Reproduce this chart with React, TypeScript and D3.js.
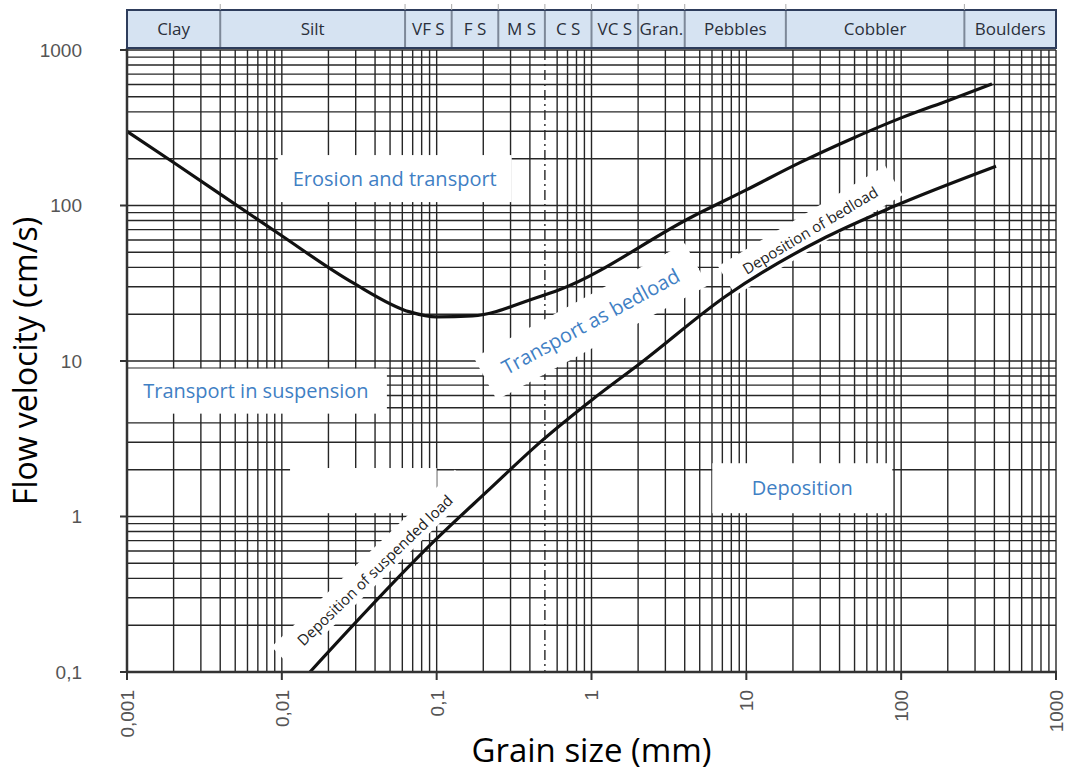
import React from 'react';
import * as d3 from 'd3';

// grain size classes (mm)
const classLabels = ['Clay', 'Silt', 'VF S', 'F S', 'M S', 'C S', 'VC S', 'Gran.', 'Pebbles', 'Cobbler', 'Boulders'];
const classBounds = [0.001, 0.004, 0.0625, 0.125, 0.25, 0.5, 1, 2, 4, 18, 256, 1000];

// axis ticks
const xTicks = [0.001, 0.01, 0.1, 1, 10, 100, 1000];
const xTickLabels = ['0,001', '0,01', '0,1', '1', '10', '100', '1000'];
const yTicks = [0.1, 1, 10, 100, 1000];
const yTickLabels = ['0,1', '1', '10', '100', '1000'];

// erosion curve: grain size (mm) vs velocity (cm/s)
const erosionSize = [0.001, 0.002, 0.0093, 0.0287, 0.067, 0.1, 0.17, 0.44, 0.62, 4.5, 10, 22, 46, 100, 204, 386];
const erosionVel = [300, 189, 67, 31.9, 20.7, 19.2, 19.5, 25.5, 28.7, 85, 126, 188, 264, 366, 476, 604];

// deposition curve
const depoSize = [0.0152, 0.1, 0.21, 0.483, 1, 2.13, 7.4, 32.8, 87.5, 410];
const depoVel = [0.1, 0.72, 1.44, 3.1, 5.6, 9.9, 26.2, 62.7, 97.7, 179];

const blue = '#3f80c4';

const App = () => {
  const W = 1066;
  const H = 774;
  const x = d3.scaleLog().domain([0.001, 1000]).range([127, 1056]);
  const y = d3.scaleLog().domain([0.1, 1000]).range([672, 50]);
  const headerTop = 10;
  const headerBottom = 48;

  const gridX: number[] = [];
  for (let e = -3; e < 3; e++) for (let m = 1; m < 10; m++) gridX.push(m * Math.pow(10, e));
  gridX.push(1000);
  const gridY: number[] = [];
  for (let e = -1; e < 3; e++) for (let m = 1; m < 10; m++) gridY.push(m * Math.pow(10, e));
  gridY.push(1000);

  const line = d3
    .line<[number, number]>()
    .x((d) => x(d[0]))
    .y((d) => y(d[1]))
    .curve(d3.curveMonotoneX);

  const erosion = erosionSize.map((s, i) => [s, erosionVel[i]] as [number, number]);
  const depo = depoSize.map((s, i) => [s, depoVel[i]] as [number, number]);

  // label annotations placed in data units, boxes in px (boff shifts the box across the text)
  const labels = [
    { text: 'Erosion and transport', gx: 0.0536, gv: 149, angle: 0, size: 20, color: blue, bw: 234, bh: 47, boff: 0 },
    { text: 'Transport in suspension', gx: 0.0068, gv: 6.4, angle: 0, size: 20, color: blue, bw: 262, bh: 45, boff: 0 },
    { text: 'Deposition', gx: 23, gv: 1.52, angle: 0, size: 20, color: blue, bw: 180, bh: 50, boff: 0 },
    { text: 'Transport as bedload', gx: 0.99, gv: 17.9, angle: -28.5, size: 20, color: blue, bw: 240, bh: 48, boff: 0 },
    { text: 'Deposition of bedload', gx: 25.9, gv: 69, angle: -31, size: 15, color: '#222', bw: 195, bh: 34, boff: 0 },
    { text: 'Deposition of suspended load', gx: 0.04, gv: 0.45, angle: -44, size: 15, color: '#222', bw: 255, bh: 28, boff: -3 },
  ];

  const font = "'Open Sans', sans-serif";
  const tickFont = "'Liberation Sans', Arial, sans-serif";

  return (
    <svg width={W} height={H} style={{ position: 'absolute', left: 0, top: 0, background: '#fff' }}>
      {/* grid */}
      <g stroke="#262626" strokeWidth={1.4}>
        {gridX.map((v, i) => (
          <line
            key={'gx' + i}
            x1={x(v)}
            x2={x(v)}
            y1={y(1000)}
            y2={y(0.1)}
            strokeDasharray={Math.abs(v - 0.5) < 1e-9 ? '10 4 2 4' : undefined}
          />
        ))}
        {gridY.map((v, i) => (
          <line key={'gy' + i} x1={x(0.001)} x2={x(1000)} y1={y(v)} y2={y(v)} />
        ))}
      </g>

      {/* blank patch of the grid */}
      <rect x={x(0.0113)} y={y(2.05)} width={x(0.1) - x(0.0113)} height={y(1.05) - y(2.05)} fill="#fff" />

      {/* label boxes */}
      {labels.map((l, i) => (
        <rect
          key={'lb' + i}
          x={-l.bw / 2}
          y={-l.bh / 2 + l.boff}
          width={l.bw}
          height={l.bh}
          fill="#fff"
          transform={`translate(${x(l.gx)},${y(l.gv)}) rotate(${l.angle})`}
        />
      ))}

      {/* curves */}
      <path d={line(erosion) || ''} fill="none" stroke="#111" strokeWidth={3.2} />
      <path d={line(depo) || ''} fill="none" stroke="#111" strokeWidth={3.2} />

      {/* labels */}
      {labels.map((l, i) => (
        <text
          key={'lt' + i}
          transform={`translate(${x(l.gx)},${y(l.gv)}) rotate(${l.angle})`}
          textAnchor="middle"
          dy="0.35em"
          fontFamily={font}
          fontSize={l.size}
          fill={l.color}
        >
          {l.text}
        </text>
      ))}

      {/* axes */}
      <line x1={x(0.001)} x2={x(0.001)} y1={headerBottom} y2={y(0.1) + 1} stroke="#333" strokeWidth={2.5} />
      <line x1={x(0.001) - 1} x2={x(1000) + 1} y1={y(0.1)} y2={y(0.1)} stroke="#333" strokeWidth={2.5} />
      {yTicks.map((v, i) => (
        <g key={'yt' + i}>
          <line x1={x(0.001) - 7} x2={x(0.001)} y1={y(v)} y2={y(v)} stroke="#333" strokeWidth={2} />
          <text x={82} y={y(v)} dy="0.36em" textAnchor="end" fontFamily={tickFont} fontSize={19} fill="#555">
            {yTickLabels[i]}
          </text>
        </g>
      ))}
      {xTicks.map((v, i) => (
        <g key={'xt' + i}>
          <line x1={x(v)} x2={x(v)} y1={y(0.1)} y2={y(0.1) + 8} stroke="#333" strokeWidth={2} />
          <text
            transform={`translate(${x(v)},${y(0.1) + 18}) rotate(-90)`}
            dy="0.36em"
            textAnchor="end"
            fontFamily={tickFont}
            fontSize={19}
            fill="#555"
          >
            {xTickLabels[i]}
          </text>
        </g>
      ))}

      {/* header band of grain classes */}
      <rect
        x={x(0.001)}
        y={headerTop}
        width={x(1000) - x(0.001)}
        height={headerBottom - headerTop}
        fill="#d6e3f2"
        stroke="#2e3d5c"
        strokeWidth={2}
      />
      {classBounds.slice(1, -1).map((b, i) => (
        <g key={'cb' + i}>
          <line x1={x(b)} x2={x(b)} y1={headerTop + 1} y2={headerBottom - 1} stroke="#7d8898" strokeWidth={2} />
          <line x1={x(b)} x2={x(b)} y1={4} y2={headerTop} stroke="#aaa" strokeWidth={1} />
        </g>
      ))}
      {classLabels.map((c, i) => (
        <text
          key={'cl' + i}
          x={(x(classBounds[i]) + x(classBounds[i + 1])) / 2}
          y={(headerTop + headerBottom) / 2}
          dy="0.36em"
          textAnchor="middle"
          fontFamily={font}
          fontSize={17}
          fill="#2a2f3a"
        >
          {c}
        </text>
      ))}

      {/* axis titles */}
      <text
        transform={`translate(37,${y(10)}) rotate(-90)`}
        textAnchor="middle"
        fontFamily={font}
        fontSize={32}
        fill="#000"
      >
        Flow velocity (cm/s)
      </text>
      <text x={x(1)} y={762} textAnchor="middle" fontFamily={font} fontSize={33} fill="#000">
        Grain size (mm)
      </text>
    </svg>
  );
};

export default App;
